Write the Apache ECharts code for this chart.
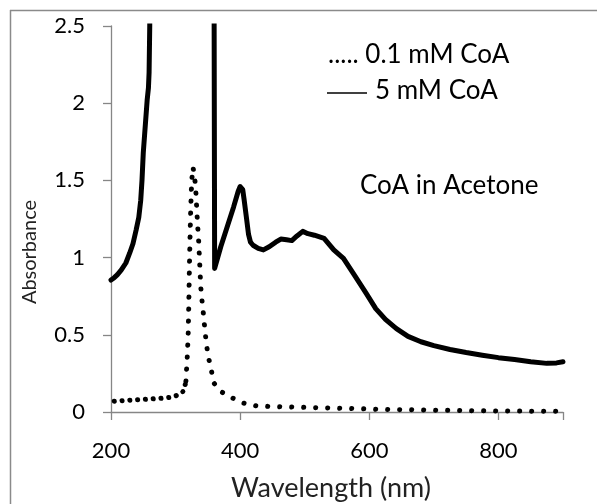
<!DOCTYPE html>
<html>
<head>
<meta charset="utf-8">
<script src="https://cdn.jsdelivr.net/npm/echarts@6/dist/echarts.min.js"></script>
<style>
  html, body { margin: 0; padding: 0; background: #ffffff; }
  #chart { width: 597px; height: 504px; }
</style>
</head>
<body>
<div id="chart"></div>
<script>
// Absorbance spectra of CoA in acetone at two concentrations: [wavelength (nm), absorbance]
const coaLow = [
  [205, 0.070], [220, 0.074], [240, 0.079], [260, 0.084], [280, 0.089], [296, 0.097],
  [306, 0.115], [313, 0.138], [316, 0.200], [318, 0.350], [319.5, 0.500], [320.5, 0.700],
  [321.5, 0.950], [322.5, 1.150], [323.5, 1.320], [325, 1.500], [327, 1.585], [329, 1.535],
  [331, 1.460], [332.5, 1.340], [334, 1.220], [336, 1.090], [337.5, 0.950], [339, 0.810],
  [341, 0.720], [343, 0.640], [345, 0.550], [347, 0.470], [350, 0.370], [355, 0.280],
  [359, 0.190], [366, 0.150], [372, 0.128], [388, 0.091], [405, 0.058], [425, 0.040],
  [450, 0.035], [480, 0.032], [550, 0.025], [620, 0.017], [700, 0.012], [800, 0.006],
  [900, 0.005]
];

const coaHigh = [
  [200, 0.855], [205, 0.870], [210, 0.890], [216, 0.920], [223, 0.965], [229, 1.030],
  [234, 1.090], [239, 1.180], [243, 1.260], [246, 1.370], [248, 1.500], [250, 1.680],
  [253, 1.850], [256, 2.020], [258, 2.100], [259, 2.200], [260, 2.500], [262, 4.000],
  [359, 4.000], [360.5, 0.930], [370, 1.070], [380, 1.200], [390, 1.330], [397, 1.430],
  [400, 1.460], [402, 1.470], [404, 1.440], [406, 1.380], [410, 1.250], [413, 1.150],
  [416, 1.100], [420, 1.080], [428, 1.060], [436, 1.050], [445, 1.070], [455, 1.100],
  [463, 1.120], [472, 1.115], [480, 1.110], [488, 1.140], [497, 1.170], [505, 1.155],
  [515, 1.145], [530, 1.125], [545, 1.050], [560, 0.995], [578, 0.880], [595, 0.770],
  [610, 0.670], [625, 0.600], [642, 0.540], [660, 0.490], [680, 0.455], [700, 0.430],
  [725, 0.405], [750, 0.385], [775, 0.368], [800, 0.352], [825, 0.340], [850, 0.326],
  [875, 0.315], [890, 0.318], [900, 0.325]
];

const xTicks = [200, 400, 600, 800];
const yTicks = [0, 0.5, 1, 1.5, 2, 2.5];

const lowLabel = '..... 0.1 mM CoA';
const highLabel = '5 mM CoA';
const noteText = 'CoA in Acetone';
const xName = 'Wavelength (nm)';
const yName = 'Absorbance';

const FONT = 'Lato, "Open Sans", sans-serif';
const AXIS_GRAY = '#868686';

const chart = echarts.init(document.getElementById('chart'), null, { renderer: 'canvas' });

// The baseline part of the dilute spectrum is dotted a little more densely
const lowBase = coaLow.filter(p => p[0] <= 316);
const lowPeak = coaLow.filter(p => p[0] >= 316);

const dotted = (gap) => ({
  color: '#000', width: 5, type: [0.1, gap], cap: 'round'
});

chart.setOption({
  animation: false,
  backgroundColor: '#ffffff',
  grid: { left: 111, right: 34, top: 26, bottom: 92 },
  xAxis: {
    type: 'value',
    min: 200, max: 900, interval: 200,
    axisLine: { show: true, onZero: false, lineStyle: { color: AXIS_GRAY, width: 1.3 } },
    axisTick: { show: true, length: 8, lineStyle: { color: AXIS_GRAY, width: 1.3 } },
    axisLabel: {
      fontFamily: FONT, fontSize: 22, color: '#000', margin: 28,
      formatter: v => (xTicks.includes(v) ? String(v) : '')
    },
    splitLine: { show: false }
  },
  yAxis: {
    type: 'value',
    min: 0, max: 2.5, interval: 0.5,
    axisLine: { show: true, lineStyle: { color: AXIS_GRAY, width: 1.3 } },
    axisTick: { show: true, length: 8, lineStyle: { color: AXIS_GRAY, width: 1.3 } },
    axisLabel: {
      fontFamily: FONT, fontSize: 22, color: '#000', margin: 26,
      formatter: v => {
        const t = yTicks.find(y => Math.abs(y - v) < 1e-9);
        return t === undefined ? '' : String(t);
      }
    },
    splitLine: { show: false }
  },
  series: [
    {
      name: '5 mM CoA',
      type: 'line',
      data: coaHigh,
      showSymbol: false,
      clip: true,
      lineStyle: { color: '#000', width: 5, join: 'round', cap: 'round' },
      z: 3
    },
    {
      name: '0.1 mM CoA',
      type: 'line',
      data: lowBase,
      showSymbol: false,
      clip: false,
      lineStyle: dotted(7.7),
      z: 2
    },
    {
      name: '0.1 mM CoA',
      type: 'line',
      data: lowPeak,
      showSymbol: false,
      clip: false,
      lineStyle: dotted(11.9),
      z: 2
    }
  ],
  graphic: [
    // chart frame (top and left edges)
    { type: 'line', shape: { x1: 10, y1: 10.5, x2: 597, y2: 10.5 },
      style: { stroke: '#8a8a8a', lineWidth: 1.5 }, silent: true },
    { type: 'line', shape: { x1: 10.5, y1: 10, x2: 10.5, y2: 504 },
      style: { stroke: '#8a8a8a', lineWidth: 1.5 }, silent: true },
    // axis titles
    { type: 'text', x: 331, y: 488,
      style: { text: xName, font: '27px ' + FONT, fill: '#222',
               align: 'center', verticalAlign: 'middle' } },
    { type: 'text', x: 30, y: 252, rotation: Math.PI / 2,
      style: { text: yName, font: '20px ' + FONT, fill: '#222',
               align: 'center', verticalAlign: 'middle' } },
    // key
    { type: 'text', left: 328, top: 42,
      style: { text: lowLabel, font: '26px ' + FONT, fill: '#000' } },
    { type: 'line', shape: { x1: 327, y1: 93, x2: 367, y2: 93 },
      style: { stroke: '#000', lineWidth: 1.6 }, silent: true },
    { type: 'text', left: 375, top: 78,
      style: { text: highLabel, font: '26px ' + FONT, fill: '#000' } },
    { type: 'text', left: 360, top: 173,
      style: { text: noteText, font: '26px ' + FONT, fill: '#000' } }
  ]
});
</script>
</body>
</html>
